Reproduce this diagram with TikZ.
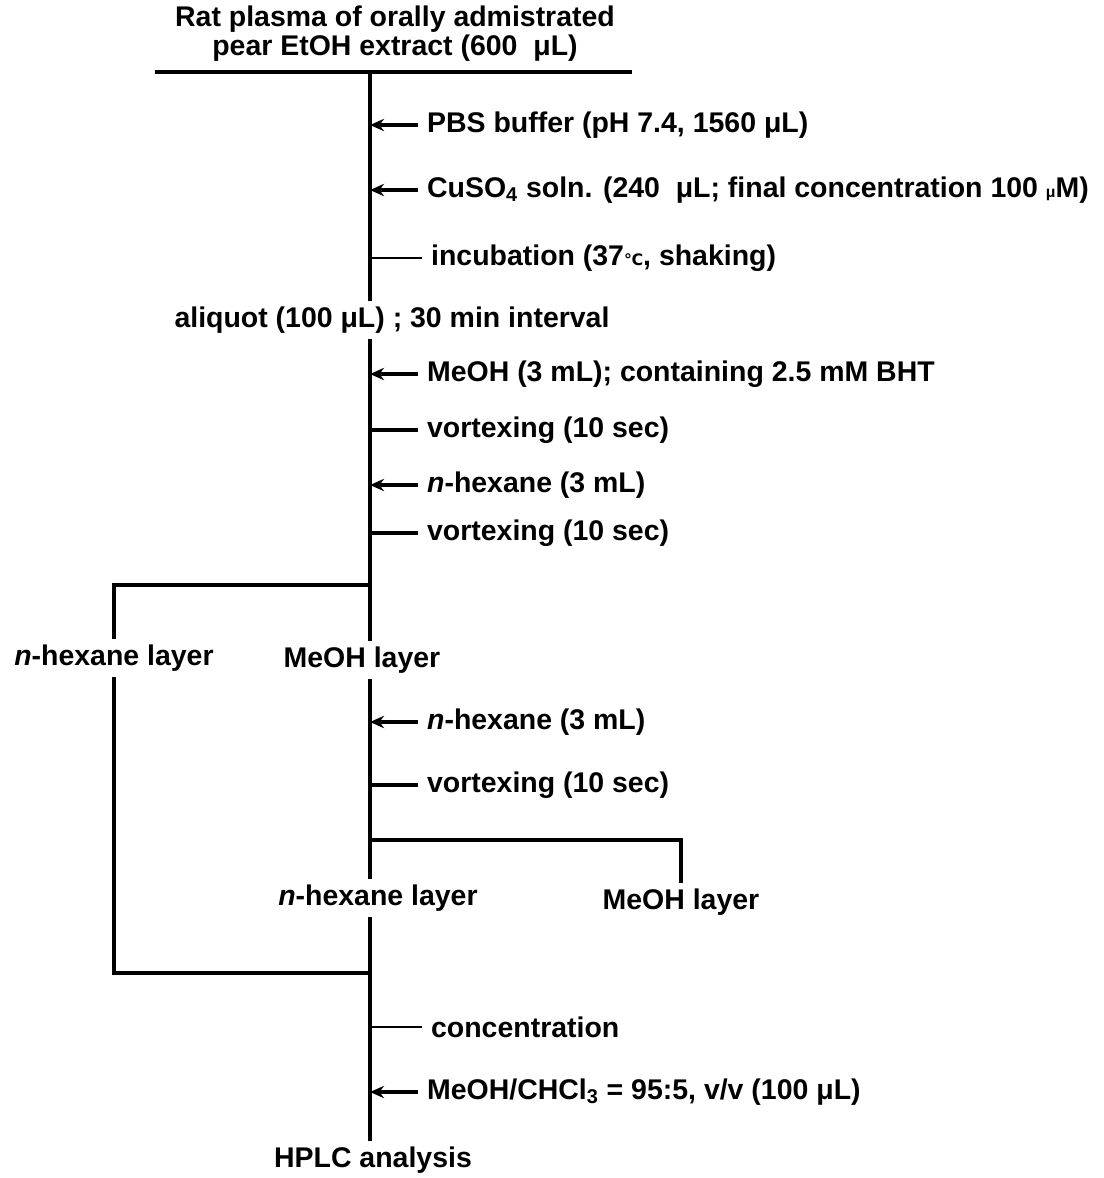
\documentclass[tikz,border=0pt]{standalone}
\usepackage{fontspec}
\setmainfont{Liberation Sans}
\newfontfamily\symfont{DejaVu Sans}
\usetikzlibrary{arrows.meta}

\begin{document}
\begin{tikzpicture}[x=0.02cm, y=-0.02cm,
    font=\fontsize{16.2}{16.5}\selectfont\bfseries,
    flow/.style={line width=1.8pt},
    add/.style={line width=1.8pt, -{Stealth[length=8pt,width=7pt]}},
    treat/.style={line width=0.9pt},
    steptext/.style={anchor=west, inner xsep=5pt}]
    \useasboundingbox (0,0) rectangle (1104,1178);

    % starting sample
    \node[align=center] (plasma) at (395,34) {Rat plasma of orally admistrated\\pear EtOH extract (600\ \ μL)};
    \coordinate (barL) at (155,72);
    \coordinate (barR) at (632,72);
    \coordinate (spine) at (370,72);
    \draw[flow] (barL) -- (barR);

    % oxidation
    \node[steptext] (pbs) at (418,125) {PBS buffer (pH 7.4, 1560 μL)};
    \node[steptext] (cuso) at (418,190) {CuSO\textsubscript{4} soln. (240\ \ μL; final concentration 100 {\small μ}M)};
    \node[steptext] (incub) at (422,258) {incubation (37{\symfont\small ℃}, shaking)};
    \node (aliquot) at (392,320) {aliquot (100 μL) ; 30 min interval};

    \draw[flow] (spine) -- (aliquot.north -| spine);
    \draw[add] (pbs.west) -- (pbs.west -| spine);
    \draw[add] (cuso.west) -- (cuso.west -| spine);
    \draw[treat] (incub.west) -- (incub.west -| spine);

    % first extraction
    \node[steptext] (meohadd) at (418,374) {MeOH (3 mL); containing 2.5 mM BHT};
    \node[steptext] (vort1) at (418,430) {vortexing (10 sec)};
    \node[steptext] (hexadd1) at (418,485) {\textit{n}-hexane (3 mL)};
    \node[steptext] (vort2) at (418,533) {vortexing (10 sec)};
    \coordinate (split1) at (370,585);
    \node (hex1) at (114,658) {\textit{n}-hexane layer};
    \node (meoh1) at (362,660) {MeOH layer};

    \draw[flow] (aliquot.south -| spine) -- (meoh1.north -| spine);
    \draw[add] (meohadd.west) -- (meohadd.west -| spine);
    \draw[flow] (vort1.west) -- (vort1.west -| spine);
    \draw[add] (hexadd1.west) -- (hexadd1.west -| spine);
    \draw[flow] (vort2.west) -- (vort2.west -| spine);
    \draw[flow] (split1) -| (hex1.north);

    % second extraction
    \node[steptext] (hexadd2) at (418,722) {\textit{n}-hexane (3 mL)};
    \node[steptext] (vort3) at (418,785) {vortexing (10 sec)};
    \coordinate (split2) at (370,840);
    \node (hex2) at (378,898) {\textit{n}-hexane layer};
    \node (meoh2) at (681,902) {MeOH layer};

    \draw[flow] (meoh1.south -| spine) -- (hex2.north -| spine);
    \draw[add] (hexadd2.west) -- (hexadd2.west -| spine);
    \draw[flow] (vort3.west) -- (vort3.west -| spine);
    \draw[flow] (split2) -| (meoh2.north);

    % pooled hexane layers
    \coordinate (merge) at (370,973);
    \node[steptext] (conc) at (422,1027) {concentration};
    \node[steptext] (redis) at (418,1092) {MeOH/CHCl\textsubscript{3} = 95:5, v/v (100 μL)};
    \node (hplc) at (373,1160) {HPLC analysis};

    \draw[flow] (hex2.south -| spine) -- (hplc.north -| spine);
    \draw[flow] (hex1.south) |- (merge);
    \draw[treat] (conc.west) -- (conc.west -| spine);
    \draw[add] (redis.west) -- (redis.west -| spine);
\end{tikzpicture}
\end{document}
